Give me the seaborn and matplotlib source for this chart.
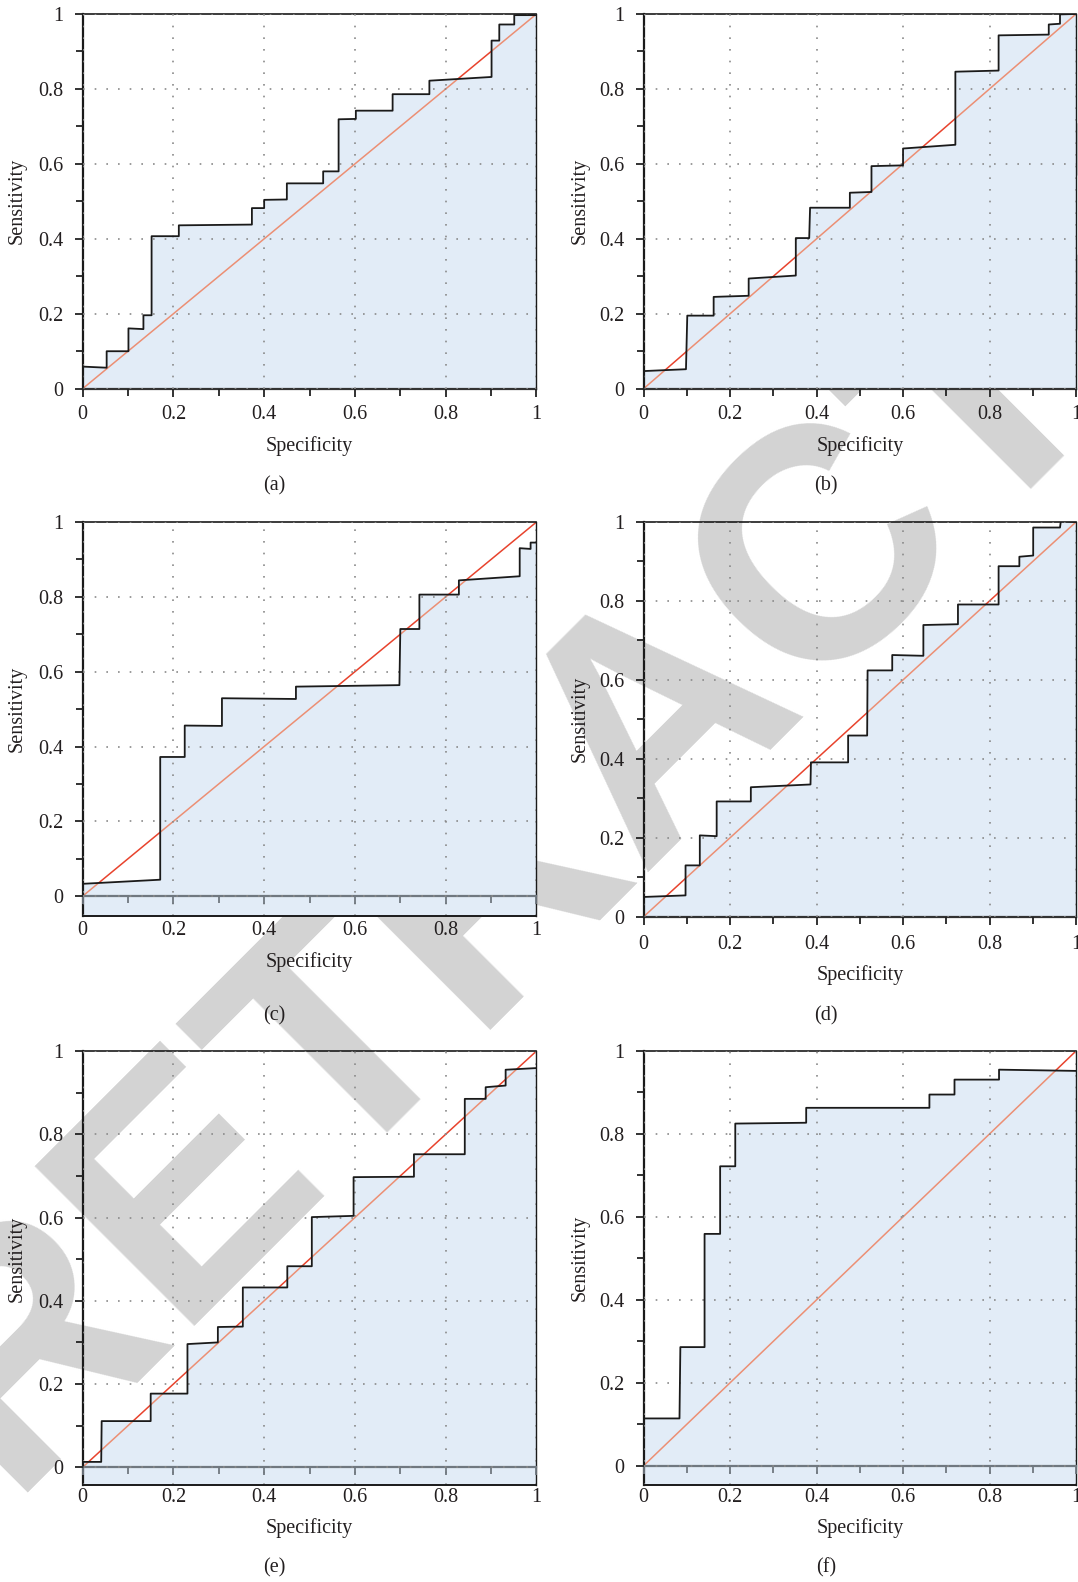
import matplotlib
matplotlib.use("Agg")
import matplotlib.pyplot as plt
import seaborn as sns
from matplotlib.ticker import MultipleLocator

# ---------------- data ----------------
spec_a = [0, 0, 0.053, 0.053, 0.101, 0.101, 0.134, 0.134, 0.152, 0.152, 0.212, 0.212,
          0.373, 0.373, 0.400, 0.400, 0.450, 0.450, 0.530, 0.530, 0.564, 0.564, 0.602,
          0.602, 0.683, 0.683, 0.764, 0.764, 0.901, 0.901, 0.918, 0.918, 0.951, 0.951, 1.0]
sens_a = [0, 0.059, 0.056, 0.100, 0.100, 0.161, 0.159, 0.196, 0.196, 0.407, 0.407, 0.436,
          0.438, 0.482, 0.482, 0.504, 0.505, 0.548, 0.548, 0.580, 0.580, 0.719, 0.720,
          0.742, 0.742, 0.786, 0.786, 0.822, 0.832, 0.929, 0.929, 0.972, 0.972, 0.997, 0.997]

spec_b = [0, 0, 0.098, 0.101, 0.162, 0.162, 0.243, 0.243, 0.352, 0.352, 0.383, 0.385,
          0.477, 0.477, 0.527, 0.527, 0.600, 0.600, 0.721, 0.721, 0.821, 0.821, 0.937,
          0.937, 0.963, 0.963, 1.0]
sens_b = [0, 0.047, 0.052, 0.195, 0.195, 0.245, 0.248, 0.294, 0.302, 0.402, 0.402, 0.483,
          0.483, 0.523, 0.525, 0.594, 0.596, 0.641, 0.651, 0.846, 0.849, 0.943, 0.945,
          0.972, 0.974, 0.999, 1.0]

spec_c = [0, 0.171, 0.171, 0.225, 0.225, 0.307, 0.307, 0.470, 0.470, 0.698, 0.700, 0.742,
          0.742, 0.829, 0.829, 0.963, 0.963, 0.987, 0.987, 1.0]
sens_c = [0.033, 0.044, 0.372, 0.372, 0.456, 0.455, 0.529, 0.527, 0.560, 0.564, 0.714, 0.714,
          0.806, 0.806, 0.844, 0.855, 0.930, 0.928, 0.945, 0.945]

spec_d = [0, 0, 0.097, 0.097, 0.130, 0.130, 0.169, 0.169, 0.248, 0.248, 0.386, 0.387,
          0.473, 0.473, 0.517, 0.518, 0.575, 0.575, 0.647, 0.647, 0.727, 0.727, 0.821,
          0.821, 0.869, 0.869, 0.901, 0.901, 0.963, 0.965, 1.0]
sens_d = [0, 0.050, 0.054, 0.130, 0.130, 0.206, 0.204, 0.292, 0.292, 0.328, 0.335, 0.391,
          0.391, 0.459, 0.459, 0.624, 0.624, 0.663, 0.661, 0.739, 0.741, 0.791, 0.791,
          0.888, 0.888, 0.912, 0.915, 0.986, 0.986, 1.003, 1.0]

spec_e = [0, 0, 0.041, 0.042, 0.150, 0.150, 0.231, 0.231, 0.298, 0.298, 0.353, 0.353,
          0.451, 0.451, 0.505, 0.505, 0.597, 0.597, 0.730, 0.730, 0.842, 0.842, 0.888,
          0.888, 0.932, 0.932, 1.0]
sens_e = [0, 0.013, 0.013, 0.111, 0.111, 0.177, 0.177, 0.296, 0.300, 0.337, 0.338, 0.432,
          0.432, 0.483, 0.483, 0.601, 0.604, 0.697, 0.698, 0.752, 0.752, 0.885, 0.885,
          0.913, 0.917, 0.955, 0.959]

spec_f = [0, 0.083, 0.085, 0.141, 0.141, 0.177, 0.177, 0.212, 0.212, 0.376, 0.376, 0.661,
          0.661, 0.719, 0.719, 0.822, 0.822, 1.0]
sens_f = [0.114, 0.114, 0.286, 0.286, 0.559, 0.559, 0.722, 0.722, 0.825, 0.827, 0.863, 0.863,
          0.895, 0.895, 0.931, 0.931, 0.955, 0.952]

panel_names = ["(a)", "(b)", "(c)", "(d)", "(e)", "(f)"]
tick_values = [0, 0.2, 0.4, 0.6, 0.8, 1.0]
tick_labels = ["0", "0.2", "0.4", "0.6", "0.8", "1"]
x_title = "Specificity"
y_title = "Sensitivity"
watermark = "RETRACTED"

# ---------------- layout (pixels of the 1078x1582 image) ----------------
W, H = 1078, 1582
# left, right, top, bottom, y-min, x-tick pad (pt)
layout = [
    (82.6, 536.5, 14.0, 388.7, 0.0, 6.0),
    (643.6, 1076.0, 14.0, 388.7, 0.0, 6.0),
    (82.6, 536.5, 522.0, 916.0, -0.053, 12.2),
    (643.6, 1076.0, 522.0, 916.7, 0.0, 7.3),
    (82.6, 536.5, 1051.0, 1485.0, -0.0425, 8.8),
    (643.6, 1076.0, 1051.0, 1485.0, -0.0465, 9.8),
]
xlabel_base = [451, 451, 967, 980, 1533, 1533]
caption_base = [490, 490, 1020, 1020, 1572, 1572]
caption_x = [274.5, 825.7]
ylabel_x = [17.2, 580.5]

FILL = "#e2ecf7"
RED = "#e8432d"
SALMON = "#ec8f74"
GRID = "#8a8a8a"
AXGRAY = "#707880"

sns.set_theme(style="white")
plt.rcParams["font.family"] = ["Liberation Serif", "DejaVu Serif"]
plt.rcParams["text.color"] = "#231f20"
plt.rcParams["xtick.color"] = "#231f20"
plt.rcParams["ytick.color"] = "#231f20"

fig = plt.figure(figsize=(W / 100, H / 100), dpi=100)
fig.patch.set_facecolor("white")

# watermark, behind the axes contents
fig.text(660 / W, 1 - 718 / H, watermark, rotation=45, rotation_mode="anchor",
         ha="center", va="center", fontsize=236, fontweight="bold",
         family="Liberation Sans", color="#d3d3d3", zorder=-10)

specs = [spec_a, spec_b, spec_c, spec_d, spec_e, spec_f]
senss = [sens_a, sens_b, sens_c, sens_d, sens_e, sens_f]


def fx(px):
    return px / W


def fy(py):
    return 1 - py / H


for i, (spec, sens) in enumerate(zip(specs, senss)):
    L, R, T, B, ylo, xpad = layout[i]
    ax = fig.add_axes([fx(L), fy(B), (R - L) / W, (B - T) / H])
    ax.set_facecolor("none")
    ax.set_xlim(0, 1)
    ax.set_ylim(ylo, 1)

    poly = ax.fill_between(spec, sens, ylo, color=FILL, lw=0, zorder=1)

    sns.lineplot(x=[0, 1], y=[0, 1], color=RED, lw=1.1, ax=ax, zorder=0.9)
    sns.lineplot(x=[0, 1], y=[0, 1], color=SALMON, lw=1.1, ax=ax, zorder=1.1)
    sal = ax.lines[-1]
    sal.set_clip_path(poly.get_paths()[0], ax.transData)

    sns.lineplot(x=spec, y=sens, sort=False, estimator=None, color="#1a1a1a",
                 lw=1.3, ax=ax, zorder=3)

    ax.set_xticks(tick_values, tick_labels)
    ax.set_yticks(tick_values, tick_labels)
    ax.xaxis.set_minor_locator(MultipleLocator(0.1))
    ax.yaxis.set_minor_locator(MultipleLocator(0.1))
    xcol = AXGRAY if ylo < 0 else "#222222"
    ax.tick_params(axis="x", which="both", bottom=True, direction="out", width=1.3,
                   color=xcol, pad=xpad, labelsize=14.5)
    ax.tick_params(axis="x", which="major", length=6)
    ax.tick_params(axis="x", which="minor", length=5)
    ax.tick_params(axis="y", which="both", left=True, direction="out", width=1.3,
                   color="#222222", pad=8, labelsize=14.5)
    ax.tick_params(axis="y", which="major", length=6)
    ax.tick_params(axis="y", which="minor", length=5)

    ax.grid(True, which="major", color=GRID, linestyle=(0, (1, 6)), linewidth=1.2)
    ax.set_axisbelow(False)

    for s in ("left", "top", "right"):
        ax.spines[s].set_visible(True)
        ax.spines[s].set_color("#1a1a1a")
    ax.spines["left"].set_linewidth(1.6)
    ax.spines["top"].set_linewidth(1.2)
    ax.spines["right"].set_linewidth(1.0)
    ax.spines["bottom"].set_visible(True)
    if ylo < 0:
        ax.spines["bottom"].set_position(("data", 0))
        ax.spines["bottom"].set_color(AXGRAY)
        ax.spines["bottom"].set_linewidth(1.6)
        ax.axhline(ylo, color="#1a1a1a", lw=1.4, clip_on=False, zorder=3)
    else:
        ax.spines["bottom"].set_color("#333333")
        ax.spines["bottom"].set_linewidth(1.6)

    col = i % 2
    xc = (L + R) / 2
    y0px = B - (0 - ylo) / (1 - ylo) * (B - T)
    fig.text(fx(xc), fy(xlabel_base[i]), x_title, ha="center", va="baseline", fontsize=14.5)
    fig.text(fx(caption_x[col]), fy(caption_base[i]), panel_names[i], ha="center",
             va="baseline", fontsize=14.5)
    fig.text(fx(ylabel_x[col]), fy((T + y0px) / 2), y_title, rotation=90, ha="center",
             va="center", fontsize=14.5)

fig.savefig("out.png", dpi=100, facecolor="white")
